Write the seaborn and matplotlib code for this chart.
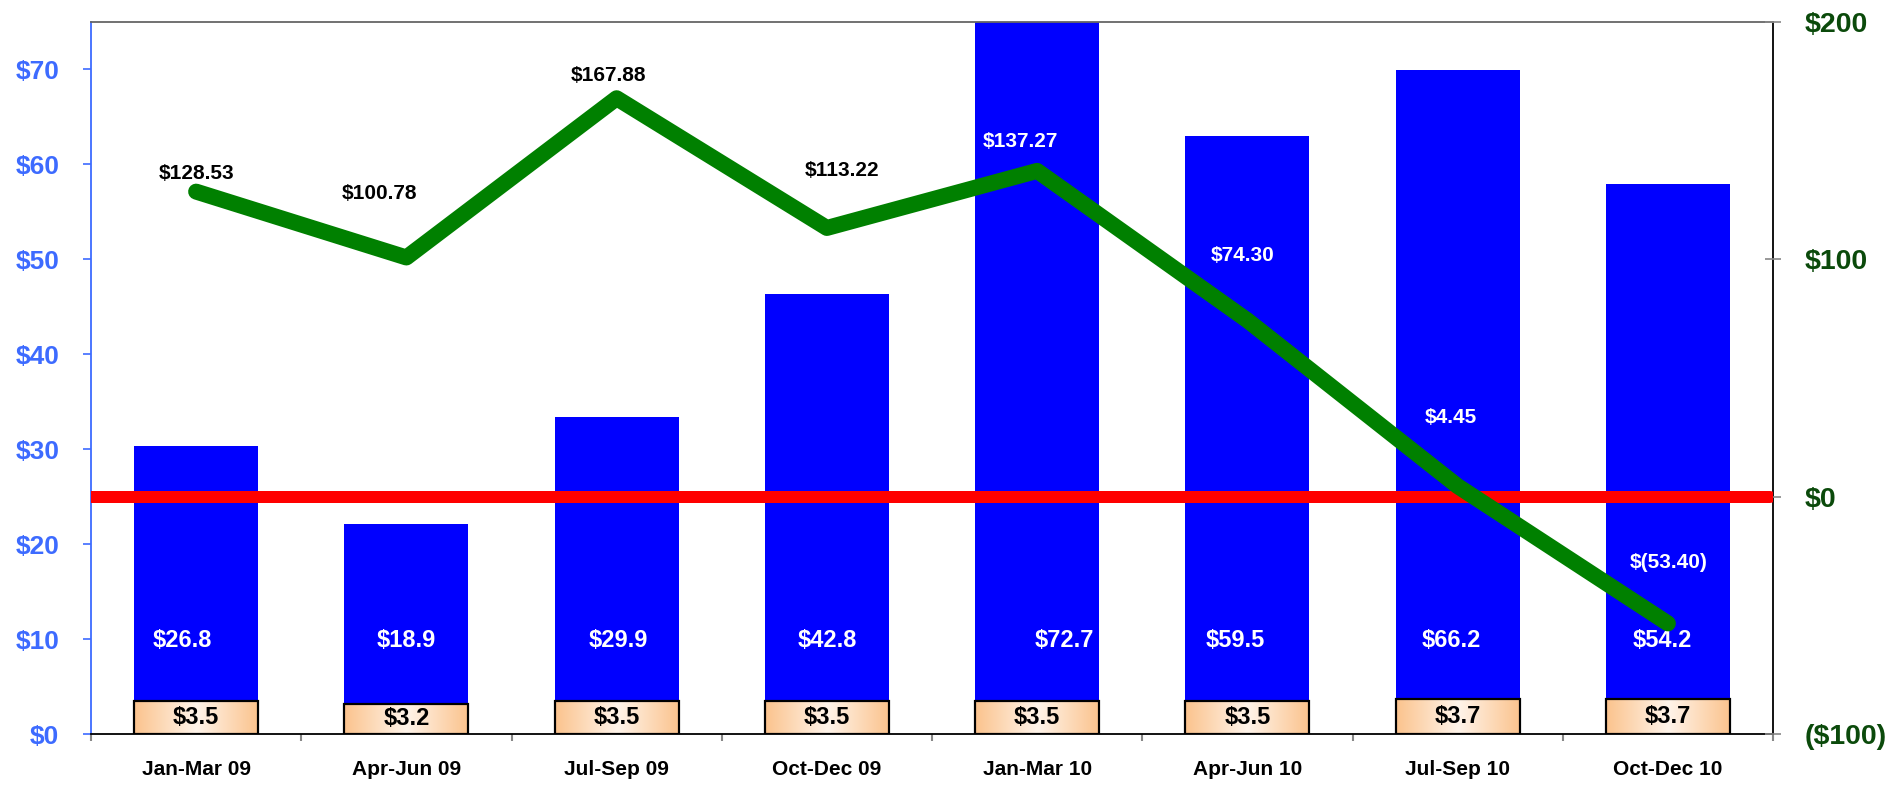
import numpy as np
import pandas as pd
import matplotlib
matplotlib.use("Agg")
import matplotlib.pyplot as plt
from matplotlib.colors import LinearSegmentedColormap
import seaborn as sns

# quarterly figures
quarters = ['Jan-Mar 09', 'Apr-Jun 09', 'Jul-Sep 09', 'Oct-Dec 09',
            'Jan-Mar 10', 'Apr-Jun 10', 'Jul-Sep 10', 'Oct-Dec 10']
base_vals = [3.5, 3.2, 3.5, 3.5, 3.5, 3.5, 3.7, 3.7]
blue_vals = [26.8, 18.9, 29.9, 42.8, 72.7, 59.5, 66.2, 54.2]
net_vals = [128.53, 100.78, 167.88, 113.22, 137.27, 74.30, 4.45, -53.40]

left_ticks = [0, 10, 20, 30, 40, 50, 60, 70]
right_ticks = [-100, 0, 100, 200]

# hand-placed label nudges (pixels) as in the original sheet
net_label_off = [(0, 18), (-27, 64), (-8, 23), (15, 57), (-17, 29), (-5, 65), (-7, 69), (1, 61)]
blue_label_dx = [-14, 0, 2, 0, 27, -12, -6, -6]

df = pd.DataFrame({'quarter': quarters, 'base': base_vals, 'blue': blue_vals, 'net': net_vals})
df['total'] = df['base'] + df['blue']
df['pos'] = np.arange(len(df))

sns.set_style('white')
plt.rcParams['font.family'] = ['Liberation Sans', 'DejaVu Sans']
plt.rcParams['font.weight'] = 'bold'

px = 0.72  # pixels -> points at dpi 100
fig = plt.figure(figsize=(18.91, 7.85), dpi=100)
ax = fig.add_axes([91 / 1891, 1 - 734 / 785, (1773 - 91) / 1891, (734 - 22) / 785])

sns.barplot(data=df, x='quarter', y='total', color='#0000ff', saturation=1,
            width=0.59, linewidth=0, ax=ax, zorder=1)
n_blue = len(ax.patches)
sns.barplot(data=df, x='quarter', y='base', color='#fcc794', saturation=1,
            width=0.59, linewidth=0, ax=ax, zorder=2)

# peach gradient on the bottom segments
peach = LinearSegmentedColormap.from_list('peach', ['#fbc38d', '#fff4ea', '#fbc38d'])
grad = np.linspace(0, 1, 256).reshape(1, -1)
for p in ax.patches[n_blue:]:
    x0, y0 = p.get_x(), p.get_y()
    w, h = p.get_width(), p.get_height()
    im = ax.imshow(grad, cmap=peach, extent=[x0, x0 + w, y0, y0 + h],
                   aspect='auto', zorder=2.5, origin='lower')
    im.set_clip_path(p)
    p.set_facecolor('none')
    p.set_edgecolor('black')
    p.set_linewidth(2.2 * px)
    p.set_zorder(3)

ax.set_xlim(-0.5, len(quarters) - 0.5)
ax.set_ylim(0, 75)
ax.set_yticks(left_ticks)
ax.set_yticklabels([f'${v}' for v in left_ticks])
ax.tick_params(axis='y', colors='#3d6bff', labelsize=19, length=8 * px,
               width=1.2, direction='out', pad=17, left=True)
for lab in ax.get_yticklabels():
    lab.set_fontweight('bold')

ax.set_xticks(df['pos'])
ax.set_xticklabels(quarters, fontsize=15, fontweight='bold', color='black')
ax.tick_params(axis='x', length=0, pad=19)
ax.set_xticks(np.arange(-0.5, len(quarters)), minor=True)
ax.tick_params(axis='x', which='minor', length=7 * px, color='#888888', width=1.5,
               direction='out', bottom=True)
ax.set_xlabel('')
ax.set_ylabel('')

ax.spines['left'].set_color('#3d6bff')
ax.spines['top'].set_color('#666666')
ax.spines['bottom'].set_color('black')
ax.spines['right'].set_color('black')
for s in ax.spines.values():
    s.set_linewidth(1.3)

# value labels on the bars
for i, row in df.iterrows():
    ax.text(row['pos'] + blue_label_dx[i] / 210, 9.9, f"${row['blue']:.1f}",
            ha='center', va='center', color='white', fontsize=17, fontweight='bold', zorder=6)
    ax.text(row['pos'], row['base'] / 2, f"${row['base']:.1f}",
            ha='center', va='center', color='black', fontsize=17, fontweight='bold', zorder=6)

# net line on the right axis
ax2 = ax.twinx()
ax2.axhline(0, color='#ff0000', linewidth=12 * px, xmin=0, xmax=0.998, zorder=2)
sns.lineplot(data=df, x='pos', y='net', color='#008000', linewidth=16 * px,
             sort=False, ax=ax2, zorder=3, solid_capstyle='round', solid_joinstyle='round')
ax2.set_ylim(-100, 200)
ax2.set_xlim(-0.5, len(quarters) - 0.5)
ax2.set_yticks(right_ticks)
ax2.set_yticklabels([f'${v}' if v >= 0 else f'(${-v})' for v in right_ticks])
ax2.tick_params(axis='y', colors='#0b4a0b', labelsize=20.5, length=16 * px,
                width=1.2, direction='inout', pad=17, right=True)
ax2.tick_params(axis='y', color='#888888')
for lab in ax2.get_yticklabels():
    lab.set_fontweight('bold')
ax2.set_xlabel('')
ax2.set_ylabel('')
for s in ax2.spines.values():
    s.set_visible(False)

for i, row in df.iterrows():
    v = row['net']
    txt = f'${v:,.2f}' if v >= 0 else f'$({-v:,.2f})'
    dx, dy = net_label_off[i]
    ax2.annotate(txt, (row['pos'], v), xytext=(dx * px, dy * px), textcoords='offset points',
                 ha='center', va='center', fontsize=15, fontweight='bold',
                 color='white' if i >= 4 else 'black', zorder=7)

plt.savefig('out.png', dpi=100)
